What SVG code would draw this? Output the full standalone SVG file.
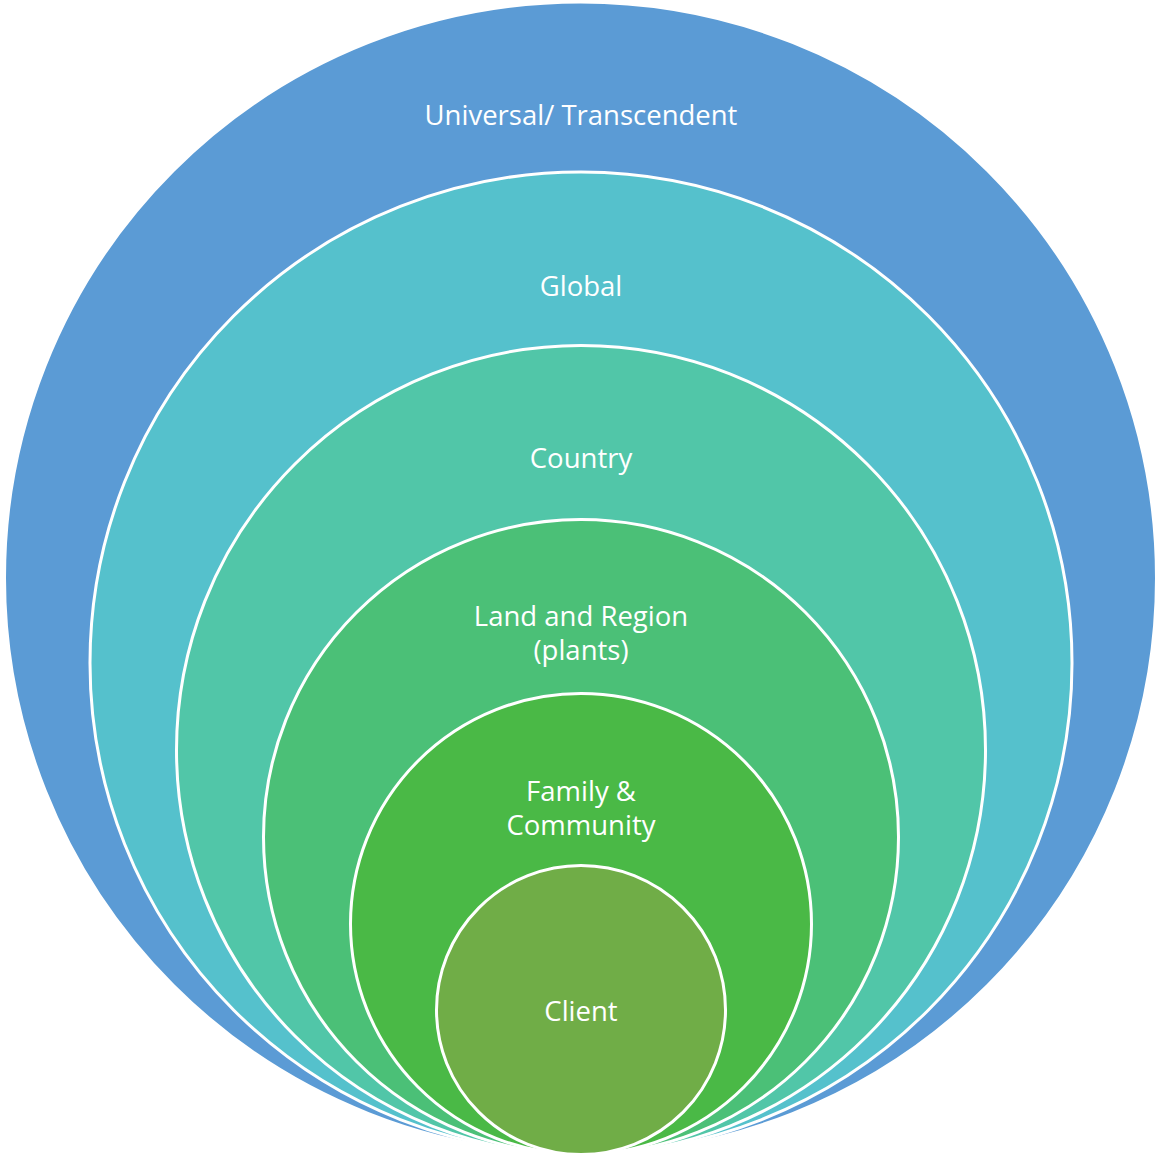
<svg xmlns="http://www.w3.org/2000/svg" width="1158" height="1159" viewBox="0 0 1158 1159">
  <style>
    .ring { stroke: #ffffff; stroke-width: 3; }
    .lbl { font-family: "Open Sans", "Noto Sans", "Liberation Sans", sans-serif; font-size: 27.5px; fill: #ffffff; text-anchor: middle; }
  </style>
  <rect width="1158" height="1159" fill="#ffffff"/>
  <!-- Nested circles, all touching at the bottom (y = 1154) -->
  <g id="universal">
    <circle class="ring" cx="580.5" cy="578" r="576" fill="#5B9BD5" stroke-width="1.5"/>
    <text class="lbl" x="581" y="125">Universal/ Transcendent</text>
  </g>
  <g id="global">
    <circle class="ring" cx="581" cy="663" r="491" fill="#55C1CC"/>
    <text class="lbl" x="581" y="296">Global</text>
  </g>
  <g id="country">
    <circle class="ring" cx="581" cy="750" r="404.5" fill="#51C6A8"/>
    <text class="lbl" x="581" y="468">Country</text>
  </g>
  <g id="land">
    <circle class="ring" cx="581" cy="837" r="317.5" fill="#4BC077"/>
    <text class="lbl" x="581" y="626">Land and Region</text>
    <text class="lbl" x="581" y="660">(plants)</text>
  </g>
  <g id="family">
    <circle class="ring" cx="581" cy="924" r="230.5" fill="#4AB946"/>
    <text class="lbl" x="581" y="801">Family &amp;</text>
    <text class="lbl" x="581" y="835">Community</text>
  </g>
  <g id="client">
    <circle class="ring" cx="581" cy="1010" r="144.5" fill="#70AD47"/>
    <text class="lbl" x="581" y="1021">Client</text>
  </g>
  <g id="connectors"/>
</svg>
